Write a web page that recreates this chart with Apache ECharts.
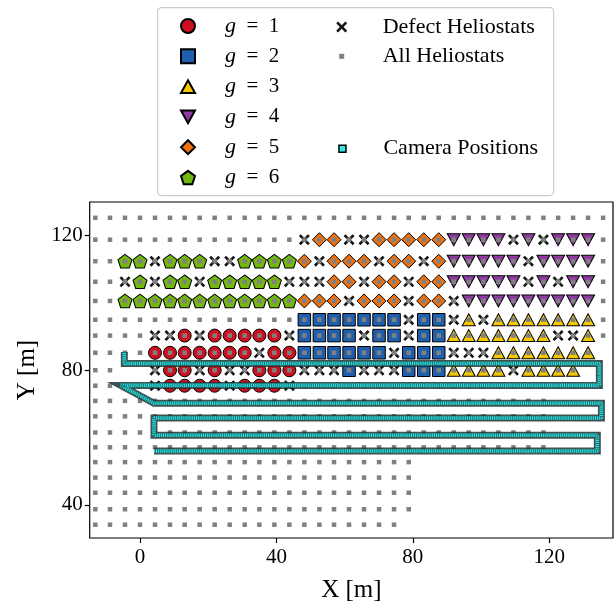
<!DOCTYPE html>
<html>
<head>
<meta charset="utf-8">
<script src="https://cdn.jsdelivr.net/npm/echarts@6/dist/echarts.min.js"></script>
<style>
html,body{margin:0;padding:0;background:#fff;}
#chart{width:614px;height:608px;}
</style>
</head>
<body>
<div id="chart"></div>
<script>
//column positions of the heliostat field (x in m), one per character of a row string
var xCols = [-13.1, -8.8, -4.4, 0, 4.4, 8.8, 13.1, 17.5, 21.9, 26.3, 30.7, 35.0, 39.4, 43.8, 48.2, 52.6, 56.9,
	61.3, 65.7, 70.1, 74.5, 78.8, 83.2, 87.6, 92.0, 96.4, 100.7, 105.1, 109.5, 113.9, 118.3, 122.6, 127.0, 131.4, 135.8];

//row positions (y in m), top row first
var rowY = [125.3, 118.8, 112.4, 106.3, 100.6, 95.0, 90.3, 85.2, 80.0, 75.4, 70.9, 66.3, 61.5, 57.1, 52.7, 48.1, 43.6, 38.7, 34.1];

//'.' heliostat, 'X' defect, '1'-'6' group g, ' ' nothing
var rowMap = [
	'...................................',
	'..............X55XX555554444X4X444.',
	'..66X666XX66665X555X55X544444X4444.',
	'..X6X66X66666XXX55X55X5544444X4X44.',
	'..666666666666555X555X55X444444444.',
	'..............2222222X22X3X3333333.',
	'....XX1X11111X2222X22X223333333XX3.',
	'....1111111X11222222X222XXX3333333',
	'..  X11X1XX111XXX2XXX2223333X3333',
	'....X1111X111X....................',
	'...............................',
	'...............................',
	'...............................',
	'...............................',
	'......................',
	'......................',
	'......................',
	'......................',
	'.....................'
];

var groupNames = ['g = 1', 'g = 2', 'g = 3', 'g = 4', 'g = 5', 'g = 6'];
var groupColors = ['#cc1020', '#1f5fae', '#f5c800', '#8e3a9f', '#f0700c', '#72b80e'];

//camera flight path (m)
var cameraPath = [[-4.6, 85.4], [-4.6, 82.0], [134.7, 82.0], [134.7, 75.5], [-5.6, 75.5], [4.1, 70.2],
	[135.3, 70.2], [135.3, 65.8], [4.1, 65.8], [4.1, 60.7], [134.1, 60.7], [134.1, 56.0], [4.1, 56.0]];

var xTicks = [0, 40, 80, 120];
var yTicks = [40, 80, 120];

var serif = '"Liberation Serif", "DejaVu Serif", serif';

var symX = 'path://M1.7,0 L5,3.3 L8.3,0 L10,1.7 L6.7,5 L10,8.3 L8.3,10 L5,6.7 L1.7,10 L0,8.3 L3.3,5 L0,1.7 Z';
var symPent = 'path://M5,0 L9.76,3.45 L7.94,9.05 L2.06,9.05 L0.24,3.45 Z';
var symUp = 'path://M5,0 L10,9 L0,9 Z';
var symDown = 'path://M0,0 L10,0 L5,9 Z';
var groupSymbols = ['circle', 'rect', symUp, symDown, 'diamond', symPent];
var groupSizes = [13, 12.5, [13, 12], [13, 12], 14, [14, 13.5]];

//split the field map into point lists
var allPts = [], defectPts = [], groupPts = [[], [], [], [], [], []];
for (var r = 0; r < rowMap.length; r++) {
	for (var i = 0; i < rowMap[r].length; i++) {
		var c = rowMap[r].charAt(i);
		if (c == ' ') continue;
		var p = [xCols[i], rowY[r]];
		allPts.push(p);
		if (c == 'X') defectPts.push(p);
		else if (c != '.') groupPts[+c - 1].push(p);
	}
}

var series = [];
for (var g = 0; g < 6; g++) {
	series.push({
		name: groupNames[g],
		type: 'scatter',
		data: groupPts[g],
		symbol: groupSymbols[g],
		symbolSize: groupSizes[g],
		itemStyle: {color: groupColors[g], borderColor: '#000', borderWidth: 1, opacity: 1},
		z: 2
	});
}
series.push({
	name: 'Defect Heliostats',
	type: 'scatter',
	data: defectPts,
	symbol: symX,
	symbolSize: 11,
	itemStyle: {color: '#151515', opacity: 1},
	z: 3
});
series.push({
	name: 'All Heliostats',
	type: 'scatter',
	data: allPts,
	symbol: 'rect',
	symbolSize: 4.5,
	itemStyle: {color: '#808080', opacity: 1},
	z: 4
});
series.push({
	name: 'Camera Positions',
	type: 'line',
	data: cameraPath,
	showSymbol: false,
	symbol: 'rect',
	itemStyle: {color: '#2ee6e6'},
	lineStyle: {color: '#1c3434', width: 7, opacity: 0.85, join: 'miter'},
	silent: true,
	z: 5
});
series.push({
	type: 'line',
	data: cameraPath,
	showSymbol: false,
	lineStyle: {color: '#30dcdc', width: 3.6, opacity: 1},
	silent: true,
	z: 6
});
series.push({
	type: 'line',
	data: cameraPath,
	showSymbol: false,
	lineStyle: {color: '#0b4a4a', width: 3.6, opacity: 0.75, type: [0.9, 1.2]},
	silent: true,
	z: 7
});

function gLabel(name) {
	var p = name.split(' = ');
	return '{s|}{i|' + p[0] + '}{t|  =  ' + p[1] + '}';
}

var option = {
	backgroundColor: '#fff',
	animation: false,
	graphic: [{
		type: 'rect',
		left: 157, top: 7,
		shape: {width: 396, height: 188, r: 4},
		style: {fill: '#fff', stroke: '#cccccc', lineWidth: 1.2},
		z: 0
	}],
	legend: [{
		orient: 'vertical',
		left: 175, top: 10,
		itemWidth: 14, itemHeight: 14, itemGap: 8.3,
		data: groupNames,
		formatter: gLabel,
		textStyle: {
			fontFamily: serif, fontSize: 21, color: '#000', lineHeight: 20,
			rich: {
				s: {width: 25},
				i: {fontFamily: serif, fontSize: 22, fontStyle: 'italic', lineHeight: 20},
				t: {fontFamily: serif, fontSize: 21, lineHeight: 20}
			}
		},
		selectedMode: false
	}, {
		orient: 'vertical',
		left: 331.2, top: 11,
		itemWidth: 11, itemHeight: 11,
		data: ['Defect Heliostats'],
		formatter: '{s|}{name}',
		textStyle: {fontFamily: serif, fontSize: 22, color: '#000', lineHeight: 20, rich: {s: {width: 30.5}}},
		selectedMode: false
	}, {
		orient: 'vertical',
		left: 334.2, top: 40.3,
		itemWidth: 5, itemHeight: 5,
		data: ['All Heliostats'],
		formatter: '{s|}{name}',
		textStyle: {fontFamily: serif, fontSize: 22, color: '#000', lineHeight: 20, rich: {s: {width: 33.5}}},
		selectedMode: false
	}, {
		orient: 'vertical',
		left: 333.2, top: 132.7,
		itemWidth: 7, itemHeight: 7,
		data: [{name: 'Camera Positions', icon: 'rect', itemStyle: {color: '#2ee6e6', borderColor: '#000', borderWidth: 1.5}}],
		formatter: '{s|}{name}',
		textStyle: {fontFamily: serif, fontSize: 22, color: '#000', lineHeight: 20, rich: {s: {width: 32.5}}},
		selectedMode: false
	}],
	grid: {
		left: 89.7, right: 1, top: 202, bottom: 67.3,
		show: true, borderColor: '#000', borderWidth: 1.2, backgroundColor: 'transparent'
	},
	xAxis: {
		type: 'value',
		min: -14.75, max: 138.7,
		name: 'X [m]',
		nameLocation: 'middle',
		nameGap: 40,
		nameTextStyle: {fontFamily: serif, fontSize: 25, color: '#000'},
		axisLine: {show: false, onZero: false},
		axisTick: {show: true, inside: false, length: 5, customValues: xTicks, lineStyle: {color: '#000', width: 1.2}},
		axisLabel: {customValues: xTicks, fontFamily: serif, fontSize: 21, color: '#000', margin: 9},
		splitLine: {show: false}
	},
	yAxis: {
		type: 'value',
		min: 30.15, max: 130.0,
		name: 'Y [m]',
		nameLocation: 'middle',
		nameGap: 50,
		nameTextStyle: {fontFamily: serif, fontSize: 25, color: '#000'},
		axisLine: {show: false, onZero: false},
		axisTick: {show: true, inside: false, length: 5, customValues: yTicks, lineStyle: {color: '#000', width: 1.2}},
		axisLabel: {customValues: yTicks, fontFamily: serif, fontSize: 21, color: '#000', margin: 7},
		splitLine: {show: false}
	},
	series: series
};

var myChart = echarts.init(document.getElementById('chart'), null, {renderer: 'canvas'});
myChart.setOption(option, true);
</script>
</body>
</html>
